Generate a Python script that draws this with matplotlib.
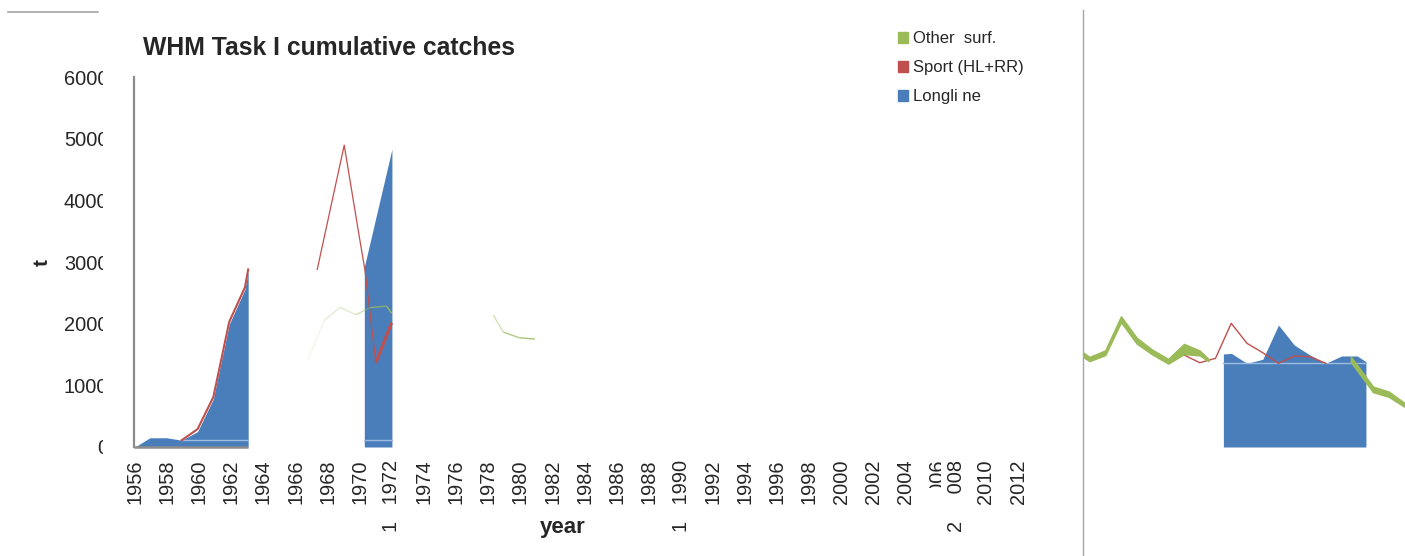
import matplotlib
matplotlib.use("Agg")
import matplotlib.pyplot as plt
from matplotlib import font_manager as fm
from matplotlib.patches import Patch
from matplotlib.lines import Line2D
from matplotlib.collections import LineCollection
from matplotlib.transforms import Bbox, TransformedBbox, ScaledTranslation
import numpy as np

# ---------------- data ----------------
title = "WHM Task I cumulative catches"
legend_labels = ["Other  surf.", "Sport (HL+RR)", "Longli ne"]
c_other, c_sport, c_long = "#9BBB59", "#C0504D", "#4A7EBB"
c_base = "#9FBCE0"

y_ticks = [0, 1000, 2000, 3000, 4000, 5000, 6000]
y_ticklabels = ["0", "1000", "2000", "3000", "4000", "5000", "6000"]
x_ticks = list(range(1956, 2013, 2))
x_ticklabels = ["1956", "1958", "1960", "1962", "1964", "1966", "1968", "1970",
                "1   1972", "1974", "1976", "1978", "1980", "1982", "1984", "1986",
                "1988", "1   1990", "1992", "1994", "1996", "1998", "2000", "2002",
                "2004", "2006", "2     008", "2010", "2012"]
x_label_shift_px = {2008: -14, 2010: -17, 2012: -16}

# main panel fragments (year, t)
long_a_years = [1956, 1956.93, 1957.97, 1958.91, 1959.9, 1960.88, 1961.87, 1962.85, 1963.05]
long_a_vals = [0, 150, 150, 110, 250, 780, 1990, 2560, 2850]
sport_a_years = [1958.91, 1959.9, 1960.88, 1961.87, 1962.85, 1963.05]
sport_a_vals = [110, 290, 810, 2030, 2590, 2880]
long_c_years = [1970.28, 1972.0]
long_c_vals = [2920, 4830]
sport_b_years = [1967.35, 1969.03, 1969.9, 1970.32, 1971.0]
sport_b_vals = [2880, 4895, 3517, 2870, 1366]
sport_c_years = [1971.0, 1971.98]
sport_c_vals = [1366, 2015]
other_b_years = [1966.79, 1967.77, 1968.76, 1969.76, 1970.63, 1971.67, 1971.98]
other_b_vals = [1422, 2048, 2265, 2145, 2259, 2286, 2168]
other_b_alpha = [0.12, 0.25, 0.3, 0.45, 0.75, 0.95]
other_d_years = [1978.31, 1978.93, 1979.93, 1980.91]
other_d_vals = [2140, 1864, 1772, 1750]
other_d_alpha = [0.45, 0.75, 0.85]
base_val = 110
base_a_years = [1958.91, 1963.05]
base_c_years = [1970.28, 1972.0]
axis_a_years = [1955.94, 1963.05]

# right panel fragment (year, t)
r_other1_years = [1989, 1990, 1991, 1992, 1993, 1994, 1995, 1996, 1997, 1997.55]
r_other1_hi = [1638, 1459, 1565, 2116, 1768, 1573, 1427, 1670, 1562, 1427]
r_other1_lo = [1557, 1395, 1492, 2027, 1678, 1500, 1354, 1508, 1487, 1395]
r_sport_years = [1996, 1997, 1998, 1999, 2000, 2001, 2002, 2003, 2004, 2005]
r_sport_vals = [1492, 1367, 1438, 2006, 1681, 1529, 1357, 1476, 1464, 1357]
r_long_years = [1998.5, 1999, 2000, 2001, 2002, 2003, 2004, 2005, 2006, 2007, 2007.55]
r_long_vals = [1508, 1519, 1357, 1422, 1978, 1654, 1492, 1357, 1476, 1476, 1383]
r_base_val = 1357
r_other2_years = [2006.6, 2008, 2009, 2010]
r_other2_hi = [1459, 978, 897, 714]
r_other2_lo = [1378, 892, 816, 654]

# ---------------- fonts ----------------
names = {f.name for f in fm.fontManager.ttflist}
if "Liberation Sans Narrow" in names:
    FN, k = "Liberation Sans Narrow", 1.0
else:
    FN, k = "Liberation Sans", 0.85
FR = "Liberation Sans" if "Liberation Sans" in names else "DejaVu Sans"
plt.rcParams["font.family"] = [FN, "DejaVu Sans"]
TXT = "#262626"

W, H = 1405, 556
fig = plt.figure(figsize=(W / 100, H / 100), dpi=100)
fig.patch.set_facecolor("white")

def fx(px):
    return px / W

def fy(py):
    return 1 - py / H

# ---------------- main axes ----------------
pxyr = 16.06
x0 = 1955.94
x1 = 2013.0
ax = fig.add_axes([fx(134), fy(447), (x1 - x0) * pxyr / W, 370 / H])
ax.set_xlim(x0, x1)
ax.set_ylim(0, 6000)
ax.patch.set_alpha(0)
for s in ["top", "right", "bottom"]:
    ax.spines[s].set_visible(False)
ax.spines["left"].set_color("#8C8C8C")
ax.spines["left"].set_linewidth(1.6)

ax.fill_between(long_a_years, long_a_vals, 0, color=c_long, lw=0, zorder=2)
ax.fill_between(long_c_years, long_c_vals, 0, color=c_long, lw=0, zorder=2)
ax.plot(base_a_years, [base_val] * 2, color=c_base, lw=1, zorder=3)
ax.plot(base_c_years, [base_val] * 2, color=c_base, lw=1, zorder=3)
ax.plot(sport_a_years, sport_a_vals, color=c_sport, lw=1.5, zorder=4)
ax.plot(sport_b_years, sport_b_vals, color=c_sport, lw=0.9, zorder=4)
ax.plot(sport_c_years, sport_c_vals, color=c_sport, lw=2.2, zorder=4,
        solid_capstyle="butt")
pts = np.column_stack([other_b_years, other_b_vals])
segs = [pts[i:i + 2] for i in range(len(pts) - 1)]
ax.add_collection(LineCollection(segs, colors=[(0.608, 0.733, 0.349, a) for a in other_b_alpha],
                                 linewidths=1.0, zorder=5))
pts = np.column_stack([other_d_years, other_d_vals])
segs = [pts[i:i + 2] for i in range(len(pts) - 1)]
ax.add_collection(LineCollection(segs, colors=[(0.608, 0.733, 0.349, a) for a in other_d_alpha],
                                 linewidths=1.0, zorder=5))
ax.plot(axis_a_years, [0, 0], color="#8C8C8C", lw=1.8, zorder=6, clip_on=False,
        solid_capstyle="butt")

ax.set_yticks(y_ticks, labels=y_ticklabels)
ax.set_xticks(x_ticks, labels=x_ticklabels)
ax.tick_params(axis="y", length=0, pad=18.5, labelsize=17 * k, labelcolor=TXT)
ax.tick_params(axis="x", length=0, pad=9.0, labelsize=17 * k, labelcolor=TXT,
               labelrotation=90)

clip_y = TransformedBbox(Bbox([[0, 0], [fx(103), 1]]), fig.transFigure)
for lab in ax.get_yticklabels():
    lab.set_clip_box(clip_y)
    lab.set_clip_on(True)

xlabs = ax.get_xticklabels()
for lab, t in zip(xlabs, x_ticks):
    if t == 2006:
        lab.set_clip_box(TransformedBbox(Bbox([[0, fy(488)], [fx(941), 1]]), fig.transFigure))
        lab.set_clip_on(True)
    if t in x_label_shift_px:
        lab.set_transform(lab.get_transform() +
                          ScaledTranslation(x_label_shift_px[t] / 100, 0, fig.dpi_scale_trans))

# ---------------- right fragment axes ----------------
rpx = 15.75
rx0 = 1990 - 6.5 / rpx
ax2 = fig.add_axes([fx(1083), fy(447), (W - 1083) / W, 370 / H])
ax2.set_xlim(rx0, rx0 + (W - 1083) / rpx)
ax2.set_ylim(0, 6000)
ax2.axis("off")
ax2.fill_between(r_long_years, r_long_vals, 0, color=c_long, lw=0, zorder=2)
ax2.plot([r_long_years[0], r_long_years[-1]], [r_base_val] * 2, color=c_base, lw=1, zorder=3)
ax2.plot(r_sport_years, r_sport_vals, color=c_sport, lw=1.0, zorder=4)
ax2.fill_between(r_other1_years, r_other1_lo, r_other1_hi, color=c_other, lw=1.2,
                 edgecolor=c_other, zorder=5)
ax2.fill_between(r_other2_years, r_other2_lo, r_other2_hi, color=c_other, lw=1.2,
                 edgecolor=c_other, zorder=5)

# ---------------- decorations ----------------
fig.add_artist(Line2D([fx(1083), fx(1083)], [fy(10), 0], color="#A6A6A6", lw=1.0))
fig.add_artist(Line2D([fx(8), fx(98)], [fy(12), fy(12)], color="#A6A6A6", lw=1.2))

fig.text(fx(143), fy(55), title, fontsize=21 * k, fontweight="bold", color=TXT,
         ha="left", va="baseline")
fig.text(fx(42), fy(262), "t", fontsize=15, fontweight="bold", color=TXT,
         ha="center", va="center", rotation=90, family=[FR, "DejaVu Sans"])
fig.text(fx(563), fy(528), "year", fontsize=16, fontweight="bold", color=TXT,
         ha="center", va="center", family=[FR, "DejaVu Sans"])

handles = [Patch(color=c_other), Patch(color=c_sport), Patch(color=c_long)]
fig.legend(handles, legend_labels, loc="upper left", bbox_to_anchor=(fx(898), fy(31)),
           frameon=False, prop={"family": FR, "size": 12},
           handlelength=0.62, handleheight=0.62,
           handletextpad=0.3, labelspacing=0.85, borderpad=0, borderaxespad=0,
           labelcolor=TXT)

fig.savefig("out.png", dpi=100, facecolor="white")
